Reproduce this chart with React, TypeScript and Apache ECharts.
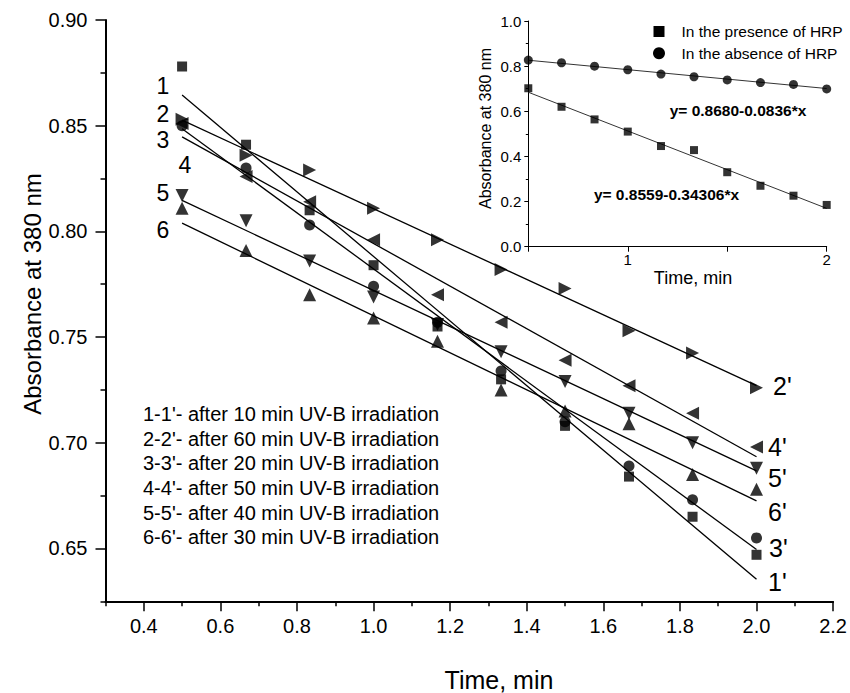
import React, { useEffect, useRef } from 'react';
import * as echarts from 'echarts';

// ---------- data ----------
const times = [0.5, 0.667, 0.833, 1.0, 1.167, 1.333, 1.5, 1.667, 1.833, 2.0];

// main plot: absorbance at 380 nm
const curve1 = [0.878, 0.841, 0.810, 0.784, 0.755, 0.730, 0.708, 0.684, 0.665, 0.647]; // 10 min (squares)
const curve2 = [0.853, 0.836, 0.829, 0.811, 0.796, 0.782, 0.773, 0.753, 0.7425, 0.726]; // 60 min (right triangles)
const curve3 = [0.850, 0.830, 0.803, 0.774, 0.757, 0.734, 0.710, 0.689, 0.673, 0.655]; // 20 min (circles)
const curve4 = [0.851, 0.826, 0.814, 0.796, 0.770, 0.757, 0.739, 0.727, 0.714, 0.698]; // 50 min (left triangles)
const curve5 = [0.817, 0.805, 0.786, 0.769, 0.756, 0.743, 0.729, 0.714, 0.700, 0.688]; // 40 min (down triangles)
const curve6 = [0.811, 0.791, 0.770, 0.759, 0.748, 0.725, 0.715, 0.709, 0.685, 0.678]; // 30 min (up triangles)

// fitted straight lines, value at t = 0.5 and t = 2.0
const fitX = [0.5, 2.0];
const fitStart = [0.8645, 0.8526, 0.8486, 0.8447, 0.8147, 0.8039];
const fitEnd = [0.6354, 0.727, 0.6495, 0.6934, 0.6867, 0.6725];

const startLabels = ['1', '2', '3', '4', '5', '6'];
const endLabels = ["1'", "2'", "3'", "4'", "5'", "6'"];
const legendLines = [
  "1-1'- after 10 min UV-B irradiation",
  "2-2'- after 60 min UV-B irradiation",
  "3-3'- after 20 min UV-B irradiation",
  "4-4'- after 50 min UV-B irradiation",
  "5-5'- after 40 min UV-B irradiation",
  "6-6'- after 30 min UV-B irradiation",
];

// axis ticks
const xMajor = [0.4, 0.6, 0.8, 1.0, 1.2, 1.4, 1.6, 1.8, 2.0, 2.2];
const xMinor = [0.3, 0.5, 0.7, 0.9, 1.1, 1.3, 1.5, 1.7, 1.9, 2.1];
const yMajor = [0.65, 0.7, 0.75, 0.8, 0.85, 0.9];
const yMinor = [0.625, 0.675, 0.725, 0.775, 0.825, 0.875];

// inset
const insetPresence = [0.702, 0.620, 0.564, 0.510, 0.446, 0.428, 0.330, 0.270, 0.226, 0.185];
const insetAbsence = [0.827, 0.815, 0.800, 0.784, 0.765, 0.753, 0.739, 0.727, 0.719, 0.699];
const insetIntercepts = [0.8559, 0.8680];
const insetSlopes = [-0.34306, -0.0836];
const insetNames = ['In the presence of HRP', 'In the absence of HRP'];
const insetEquations = ['y= 0.8559-0.34306*x', 'y= 0.8680-0.0836*x'];

// ---------- styling ----------
const FONT = '"Liberation Sans", Arial, sans-serif';
const curves = [curve1, curve2, curve3, curve4, curve5, curve6];
const symbols = [
  'rect',
  'path://M0,0L10,5L0,10Z',
  'circle',
  'path://M10,0L0,5L10,10Z',
  'path://M0,0L10,0L5,9Z',
  'path://M5,0L10,9L0,9Z',
];
const symbolSizes = [10, 13, 11, 13, 13, 13];
const startPos = [
  [163, 86], [163, 114], [163, 139.5], [185, 165], [163, 193], [163, 230],
];
const endPos = [
  [768, 582], [773, 386], [769, 548], [768, 447], [768, 478], [768, 512],
];

export default function App() {
  const ref = useRef<HTMLDivElement>(null);

  useEffect(() => {
    const chart = echarts.init(ref.current!, null, { renderer: 'svg', width: 850, height: 693 });

    const series: any[] = [];
    curves.forEach((c, i) => {
      series.push({
        type: 'line',
        name: 'fit ' + startLabels[i],
        xAxisIndex: 0,
        yAxisIndex: 0,
        data: [[fitX[0], fitStart[i]], [fitX[1], fitEnd[i]]],
        symbol: 'none',
        lineStyle: { color: '#000', width: 1.3 },
        z: 2,
      });
    });
    curves.forEach((c, i) => {
      series.push({
        type: 'scatter',
        name: legendLines[i],
        xAxisIndex: 0,
        yAxisIndex: 0,
        data: times.map((t, j) => [t, c[j]]),
        symbol: symbols[i],
        symbolSize: symbolSizes[i],
        itemStyle: { color: '#000' },
        z: 3,
      });
    });
    // inset
    [insetPresence, insetAbsence].forEach((d, i) => {
      series.push({
        type: 'line',
        name: insetEquations[i],
        xAxisIndex: 2,
        yAxisIndex: 2,
        data: [0.5, 2.0].map((t) => [t, insetIntercepts[i] + insetSlopes[i] * t]),
        symbol: 'none',
        lineStyle: { color: '#333', width: 1 },
        z: 2,
      });
      series.push({
        type: 'scatter',
        name: insetNames[i],
        xAxisIndex: 2,
        yAxisIndex: 2,
        data: times.map((t, j) => [t, d[j]]),
        symbol: i === 0 ? 'rect' : 'circle',
        symbolSize: i === 0 ? 8 : 9,
        itemStyle: { color: '#000' },
        z: 3,
      });
    });

    const txt = (text: string, x: number, y: number, size: number, extra: any = {}, styleExtra: any = {}) => ({
      type: 'text',
      x,
      y,
      ...extra,
      style: {
        text,
        fill: '#000',
        fontSize: size,
        fontFamily: FONT,
        align: 'center',
        verticalAlign: 'middle',
        ...styleExtra,
      },
      z: 10,
    });

    const graphic: any[] = [];
    startLabels.forEach((s, i) => graphic.push(txt(s, startPos[i][0], startPos[i][1], 23, {}, { lineHeight: 19 })));
    endLabels.forEach((s, i) => graphic.push(txt(s, endPos[i][0], endPos[i][1], 25, {}, { align: 'left', lineHeight: 19 })));
    legendLines.forEach((s, i) => graphic.push(txt(s, 143, 414 + i * 24.65, 20, {}, { align: 'left' })));
    graphic.push(txt('Absorbance at 380 nm', 32, 294, 24, { rotation: Math.PI / 2 }));
    graphic.push(txt('Time, min', 499, 680, 25));
    // inset texts
    graphic.push(txt('Absorbance at 380 nm', 485, 128.5, 16, { rotation: Math.PI / 2 }));
    graphic.push(txt('Time, min', 693, 278, 18));
    graphic.push(txt(insetEquations[1], 738, 110, 15.5, {}, { fontWeight: 'bold' }));
    graphic.push(txt(insetEquations[0], 666.5, 194.3, 15.5, {}, { fontWeight: 'bold' }));
    graphic.push({ type: 'rect', shape: { x: 653.5, y: 26, width: 11, height: 11 }, style: { fill: '#000' }, z: 10 });
    graphic.push({ type: 'circle', shape: { cx: 659, cy: 53.3, r: 6 }, style: { fill: '#000' }, z: 10 });
    graphic.push(txt(insetNames[0], 681.5, 31.7, 15.5, {}, { align: 'left' }));
    graphic.push(txt(insetNames[1], 681.5, 53.3, 15.5, {}, { align: 'left' }));

    const axisLineMain = { show: true, lineStyle: { color: '#000', width: 2 } };
    const axisLineInset = { show: true, lineStyle: { color: '#000', width: 1 } };

    const option: any = {
      animation: false,
      backgroundColor: '#fff',
      textStyle: { fontFamily: FONT },
      grid: [
        { left: 105.5, top: 20, right: 16, bottom: 91.7 },
        { left: 528.3, top: 21, width: 298.4, height: 225.7 },
      ],
      xAxis: [
        {
          type: 'value', gridIndex: 0, min: 0.3, max: 2.2, position: 'bottom',
          axisLine: axisLineMain,
          axisTick: { show: true, customValues: xMajor, length: 10, lineStyle: { color: '#000', width: 1.5 } },
          axisLabel: { show: true, customValues: xMajor, fontSize: 20, color: '#000', margin: 15, fontFamily: FONT, formatter: (v: number) => v.toFixed(1) },
          splitLine: { show: false },
        },
        {
          type: 'value', gridIndex: 0, min: 0.3, max: 2.2, position: 'bottom',
          axisLine: { show: false },
          axisTick: { show: true, customValues: xMinor, length: 5, lineStyle: { color: '#000', width: 1.5 } },
          axisLabel: { show: false },
          splitLine: { show: false },
        },
        {
          type: 'value', gridIndex: 1, min: 0.5, max: 2, interval: 0.5, position: 'bottom',
          axisLine: axisLineInset,
          axisTick: { show: true, length: 5, lineStyle: { color: '#000', width: 1 } },
          axisLabel: { fontSize: 15, color: '#000', margin: 5, fontFamily: FONT, formatter: (v: number) => (Number.isInteger(v) ? String(v) : '') },
          splitLine: { show: false },
        },
      ],
      yAxis: [
        {
          type: 'value', gridIndex: 0, min: 0.625, max: 0.9, position: 'left',
          axisLine: axisLineMain,
          axisTick: { show: true, customValues: yMajor, length: 10, lineStyle: { color: '#000', width: 1.5 } },
          axisLabel: { show: true, customValues: yMajor, fontSize: 20, color: '#000', margin: 18, fontFamily: FONT, formatter: (v: number) => v.toFixed(2) },
          splitLine: { show: false },
        },
        {
          type: 'value', gridIndex: 0, min: 0.625, max: 0.9, position: 'left',
          axisLine: { show: false },
          axisTick: { show: true, customValues: yMinor, length: 5, lineStyle: { color: '#000', width: 1.5 } },
          axisLabel: { show: false },
          splitLine: { show: false },
        },
        {
          type: 'value', gridIndex: 1, min: 0, max: 1, interval: 0.2, position: 'left',
          axisLine: axisLineInset,
          axisTick: { show: true, length: 4, lineStyle: { color: '#000', width: 1 } },
          minorTick: { show: true, splitNumber: 2, length: 2.5, lineStyle: { color: '#000', width: 1 } },
          axisLabel: { fontSize: 15, color: '#000', margin: 7, fontFamily: FONT, formatter: (v: number) => v.toFixed(1) },
          splitLine: { show: false },
        },
      ],
      series,
      graphic,
    };

    chart.setOption(option);
    return () => chart.dispose();
  }, []);

  return (
    <div
      ref={ref}
      style={{ position: 'absolute', left: 0, top: 0, width: 850, height: 693, background: '#fff' }}
    />
  );
}
